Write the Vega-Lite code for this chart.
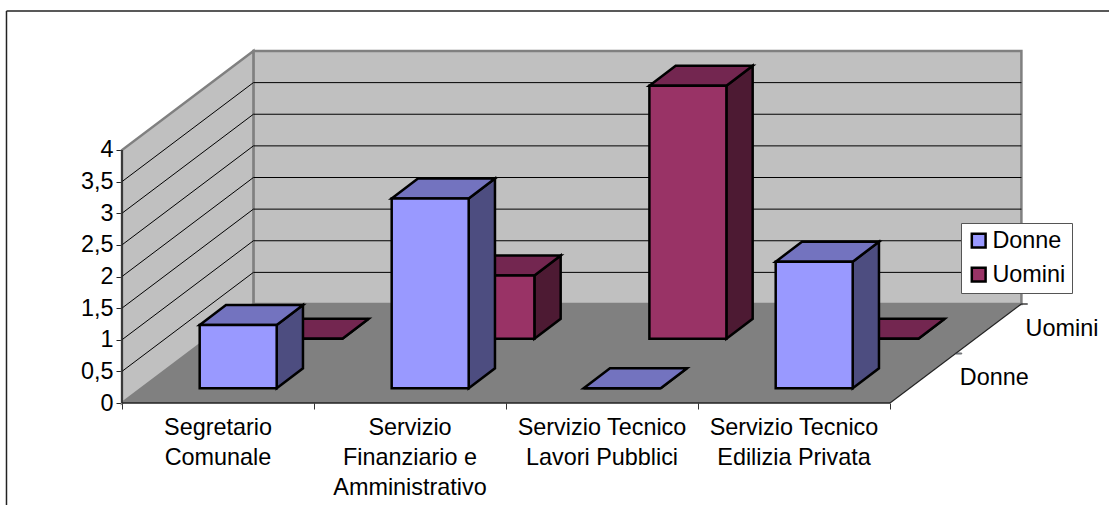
{
"$schema":"https://vega.github.io/schema/vega-lite/v6.json",
"width":1109,"height":505,"padding":0,"autosize":{"type":"none"},
"background":"white",
"config":{"view":{"stroke":null},"font":"Liberation Sans"},
"layer":[
{"data":{"values":[{"a":-0.6016,"b":5.1406,"c":6.198,"d":6.198},{"a":-0.6016,"b":-0.6016,"c":6.198,"d":-1.6126}]},
 "mark":{"type":"rule","stroke":"#222222","strokeWidth":1.5},
 "encoding":{
  "x":{"field":"a","type":"quantitative","title":null,
   "scale":{"domain":[-0.6354,5.1406],"nice":false,"zero":false},
   "axis":{"orient":"bottom","offset":-102,"values":[0,1,2,3,4],"labels":false,"grid":false,"domain":false,"ticks":true,"tickSize":6,"tickColor":"#333333","title":null}},
  "x2":{"field":"b"},
  "y":{"field":"c","type":"quantitative","title":null,
   "scale":{"domain":[-1.6126,6.3715],"nice":false,"zero":false},
   "axis":{"orient":"left","offset":-122,"values":[0,0.5,1,1.5,2,2.5,3,3.5,4],"labelExpr":"replace(''+datum.value,'.',',')","labelFontSize":23.4,"labelFont":"Liberation Sans","labelColor":"black","labelPadding":3,"grid":false,"domain":false,"tickSize":6,"tickColor":"#222222","title":null}},
  "y2":{"field":"d"}}},
{"data":{"values":[{"c0":0,"c1":4,"lo":0,"hi":4}]},
 "transform":[{"calculate":"datum.c0+2*0.3422","as":"xa"},{"calculate":"datum.c1+2*0.3422","as":"xb"},{"calculate":"datum.lo+2*0.7826","as":"ya"},{"calculate":"datum.hi+2*0.7826","as":"yb"}],
 "mark":{"type":"rect","fill":"#C0C0C0","stroke":"#808080","strokeWidth":2.5},
 "encoding":{"x":{"field":"xa","type":"quantitative"},"x2":{"field":"xb"},"y":{"field":"ya","type":"quantitative"},"y2":{"field":"yb"}}},
{"data":{"values":[{"d":0,"lo":0,"hi":4},{"d":2,"lo":0,"hi":4}]},
 "transform":[{"calculate":"datum.d*0.3422","as":"xp"},{"calculate":"datum.lo+datum.d*0.7826","as":"ya"},{"calculate":"datum.hi+datum.d*0.7826","as":"yb"}],
 "mark":{"type":"area","orient":"vertical","fill":"#C0C0C0","stroke":"#808080","strokeWidth":2.5},
 "encoding":{"x":{"field":"xp","type":"quantitative"},"y":{"field":"ya","type":"quantitative","stack":null},"y2":{"field":"yb"}}},
{"data":{"values":[{"d":0,"c0":0,"c1":4},{"d":2,"c0":0,"c1":4}]},
 "transform":[{"calculate":"datum.d*0.7826","as":"yp"},{"calculate":"datum.c0+datum.d*0.3422","as":"xa"},{"calculate":"datum.c1+datum.d*0.3422","as":"xb"}],
 "mark":{"type":"area","orient":"horizontal","fill":"#808080"},
 "encoding":{"y":{"field":"yp","type":"quantitative"},"x":{"field":"xa","type":"quantitative","stack":null},"x2":{"field":"xb"}}},
{"data":{"values":[{"v":0.5},{"v":1},{"v":1.5},{"v":2},{"v":2.5},{"v":3},{"v":3.5}]},
 "layer":[
  {"transform":[{"calculate":"2*0.3422","as":"xa"},{"calculate":"4+2*0.3422","as":"xb"},{"calculate":"datum.v+2*0.7826","as":"yp"}],
   "mark":{"type":"rule","stroke":"#000000","strokeWidth":1},
   "encoding":{"x":{"field":"xa","type":"quantitative"},"x2":{"field":"xb"},"y":{"field":"yp","type":"quantitative"}}},
  {"transform":[{"calculate":"[0,2]","as":"d"},{"flatten":["d"]},{"calculate":"datum.d*0.3422","as":"xp"},{"calculate":"datum.v+datum.d*0.7826","as":"yp"}],
   "mark":{"type":"line","stroke":"#000000","strokeWidth":1},
   "encoding":{"x":{"field":"xp","type":"quantitative"},"y":{"field":"yp","type":"quantitative"},"detail":{"field":"v"}}}
 ]},
{"data":{"values":[{"p":0,"q":0,"r":0,"s":4},{"p":0,"q":4,"r":0,"s":0}]},
 "mark":{"type":"rule","stroke":"#222222","strokeWidth":1.5},
 "encoding":{"x":{"field":"p","type":"quantitative"},"x2":{"field":"s"},"y":{"field":"r","type":"quantitative"},"y2":{"field":"q"}}},
{"data":{"values":[{"d":0},{"d":2}]},
 "transform":[{"calculate":"4+datum.d*0.3422","as":"xp"},{"calculate":"datum.d*0.7826","as":"yp"}],
 "mark":{"type":"line","stroke":"#222222","strokeWidth":1.2},
 "encoding":{"x":{"field":"xp","type":"quantitative"},"y":{"field":"yp","type":"quantitative"}}},
{"data":{"values":[
  {"categoria":"Segretario Comunale","serie":"Donne","valore":1},
  {"categoria":"Segretario Comunale","serie":"Uomini","valore":0},
  {"categoria":"Servizio Finanziario e Amministrativo","serie":"Donne","valore":3},
  {"categoria":"Servizio Finanziario e Amministrativo","serie":"Uomini","valore":1},
  {"categoria":"Servizio Tecnico Lavori Pubblici","serie":"Donne","valore":0},
  {"categoria":"Servizio Tecnico Lavori Pubblici","serie":"Uomini","valore":4},
  {"categoria":"Servizio Tecnico Edilizia Privata","serie":"Donne","valore":2},
  {"categoria":"Servizio Tecnico Edilizia Privata","serie":"Uomini","valore":0}]},
 "transform":[
  {"calculate":"indexof(['Segretario Comunale','Servizio Finanziario e Amministrativo','Servizio Tecnico Lavori Pubblici','Servizio Tecnico Edilizia Privata'],datum.categoria)","as":"i"},
  {"calculate":"datum.serie=='Donne'?0.3:1.3","as":"d0"},
  {"calculate":"[0,1]","as":"t"},{"flatten":["t"]},
  {"calculate":"datum.d0+datum.t*0.4","as":"dd"},
  {"calculate":"datum.i+0.302+datum.dd*0.3422","as":"xl"},
  {"calculate":"datum.i+0.703+datum.dd*0.3422","as":"xr"},
  {"calculate":"datum.dd*0.7826","as":"yb"},
  {"calculate":"datum.valore+datum.dd*0.7826","as":"yt"}],
 "layer":[
  {"transform":[{"filter":"datum.serie=='Uomini'"}],"layer":[
   {"mark":{"type":"area","orient":"vertical","fill":"#4D1A33","stroke":"black","strokeWidth":2.5},
    "encoding":{"x":{"field":"xr","type":"quantitative"},"y":{"field":"yb","type":"quantitative","stack":null},"y2":{"field":"yt"},"detail":{"field":"categoria"}}},
   {"mark":{"type":"area","orient":"horizontal","fill":"#732650","stroke":"black","strokeWidth":2.5},
    "encoding":{"y":{"field":"yt","type":"quantitative"},"x":{"field":"xl","type":"quantitative","stack":null},"x2":{"field":"xr"},"detail":{"field":"categoria"}}},
   {"transform":[{"filter":"datum.t==0"}],
    "mark":{"type":"rect","stroke":"black","strokeWidth":2.5},
    "encoding":{"x":{"field":"xl","type":"quantitative"},"x2":{"field":"xr"},"y":{"field":"yb","type":"quantitative"},"y2":{"field":"yt"},
     "fill":{"field":"serie","type":"nominal","scale":{"domain":["Donne","Uomini"],"range":["#9999FF","#993366"]},
      "legend":{"orient":"none","legendX":961,"legendY":223,"title":null,"fillColor":"white","strokeColor":"#555555","padding":6,"symbolType":"square","symbolSize":190,"symbolStrokeColor":"black","symbolStrokeWidth":2.5,"labelFontSize":23.4,"labelFont":"Liberation Sans","labelColor":"black","rowPadding":9,"labelOffset":2}}}}
  ]},
  {"transform":[{"filter":"datum.serie=='Donne'"}],"layer":[
   {"mark":{"type":"area","orient":"vertical","fill":"#4D4D80","stroke":"black","strokeWidth":2.5},
    "encoding":{"x":{"field":"xr","type":"quantitative"},"y":{"field":"yb","type":"quantitative","stack":null},"y2":{"field":"yt"},"detail":{"field":"categoria"}}},
   {"mark":{"type":"area","orient":"horizontal","fill":"#7373BF","stroke":"black","strokeWidth":2.5},
    "encoding":{"y":{"field":"yt","type":"quantitative"},"x":{"field":"xl","type":"quantitative","stack":null},"x2":{"field":"xr"},"detail":{"field":"categoria"}}},
   {"transform":[{"filter":"datum.t==0"}],
    "mark":{"type":"rect","stroke":"black","strokeWidth":2.5},
    "encoding":{"x":{"field":"xl","type":"quantitative"},"x2":{"field":"xr"},"y":{"field":"yb","type":"quantitative"},"y2":{"field":"yt"},
     "fill":{"field":"serie","type":"nominal","scale":{"domain":["Donne","Uomini"],"range":["#9999FF","#993366"]}}}}
  ]}
 ]},
{"data":{"values":[
  {"pos":0.5,"etichetta":"Segretario|Comunale"},
  {"pos":1.5,"etichetta":"Servizio|Finanziario e|Amministrativo"},
  {"pos":2.5,"etichetta":"Servizio Tecnico|Lavori Pubblici"},
  {"pos":3.5,"etichetta":"Servizio Tecnico|Edilizia Privata"}]},
 "transform":[{"calculate":"-0.2215","as":"yp"}],
 "mark":{"type":"text","align":"center","baseline":"top","font":"Liberation Sans","fontSize":23.4,"lineBreak":"|","lineHeight":30,"fill":"black"},
 "encoding":{"x":{"field":"pos","type":"quantitative"},"y":{"field":"yp","type":"quantitative"},"text":{"field":"etichetta"}}},
{"data":{"values":[{"serie":"Donne","d":0.5},{"serie":"Uomini","d":1.5}]},
 "transform":[{"calculate":"4+datum.d*0.3422","as":"xp"},{"calculate":"datum.d*0.7826","as":"yp"}],
 "mark":{"type":"text","align":"left","baseline":"middle","dx":37,"font":"Liberation Sans","fontSize":23.4,"fill":"black"},
 "encoding":{"x":{"field":"xp","type":"quantitative"},"y":{"field":"yp","type":"quantitative"},"text":{"field":"serie"}}},
{"data":{"values":[{"d":1},{"d":2}]},
 "transform":[{"calculate":"4+datum.d*0.3422","as":"xp"},{"calculate":"datum.d*0.7826","as":"yp"}],
 "mark":{"type":"tick","orient":"horizontal","stroke":"#333333","size":6,"thickness":1,"xOffset":3},
 "encoding":{"x":{"field":"xp","type":"quantitative"},"y":{"field":"yp","type":"quantitative"}}}
]}
